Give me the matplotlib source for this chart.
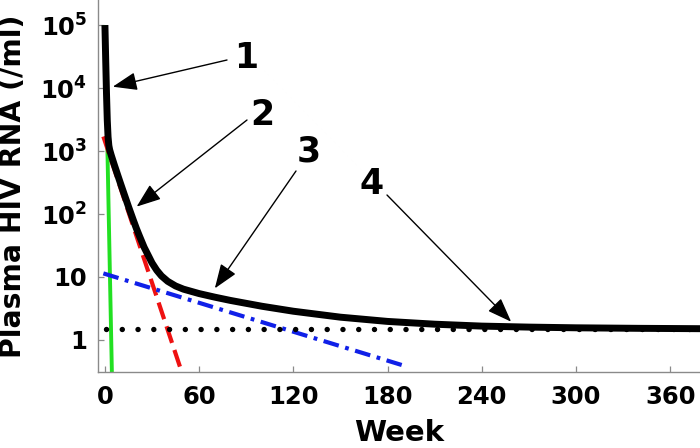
import matplotlib
matplotlib.use("Agg")
import matplotlib.pyplot as plt
import numpy as np

# ---- data ----
total_weeks = [0, 0.5, 1, 1.5, 2, 2.5, 3, 4, 6, 8, 10, 12, 15, 18, 20, 22, 25, 28,
               30, 33, 36, 40, 45, 50, 60, 70, 80, 100, 120, 150, 180, 210, 240,
               270, 300, 340, 380]
total_rna = [1.0e5, 2.76e4, 8.2e3, 3.08e3, 1.67e3, 1.22e3, 1.05e3, 860, 600, 425,
             302, 216, 131, 81, 59.3, 44.6, 29.5, 21, 16.7, 12.8, 10.4, 8.53, 7.2,
             6.41, 5.45, 4.78, 4.24, 3.43, 2.86, 2.3, 1.97, 1.78, 1.66, 1.6,
             1.56, 1.53, 1.51]

phase1_weeks = [0.0, 4.5]
phase1_rna = [1.0e5, 0.25]

phase2_weeks = [-1.0, 49.5]
phase2_rna = [1.7e3, 0.28]

phase3_weeks = [-1.0, 192.0]
phase3_rna = [11.4, 0.38]

phase4_weeks = [1.0, 380.0]
phase4_rna = [1.5, 1.5]

xticks = [0, 60, 120, 180, 240, 300, 360]
yticks = [1, 10, 1e2, 1e3, 1e4, 1e5]
ytick_labels = ["1", "10", r"$\mathbf{10^{2}}$", r"$\mathbf{10^{3}}$",
                r"$\mathbf{10^{4}}$", r"$\mathbf{10^{5}}$"]

labels = ["1", "2", "3", "4"]
arrow_tips = [(5.0, 1.05e4), (20.2, 131), (70.0, 6.6), (258.7, 1.95)]
arrow_tails_px = [(227, 60), (247, 120), (296, 171), (387, 195)]   # figure pixels from top
label_pos_px = [(246, 58), (262, 115), (309, 152), (372, 184)]

# ---- figure ----
W, H = 700, 448
fig = plt.figure(figsize=(7.0, 4.48), dpi=100)
ax = fig.add_axes([97.7 / W, (H - 372) / H, 1 - 97.7 / W, 372 / H])
ax.set_yscale("log")
ax.set_xlim(-4.6, 379)
ax.set_ylim(0.31, 2.5e5)

ax.plot(phase1_weeks, phase1_rna, color="#22e022", lw=2.8, solid_capstyle="butt", zorder=2)
ax.plot(phase2_weeks, phase2_rna, color="#ee1111", lw=3.0, dashes=(4.2, 1.8), zorder=3)
ax.plot(phase3_weeks, phase3_rna, color="#1020e8", lw=3.0,
        dashes=(3.8, 1.6, 0.9, 1.6), zorder=3)
ax.plot(phase4_weeks, phase4_rna, color="black", lw=3.9,
        dashes=(0.01, 2.9), dash_capstyle="round", zorder=4)
ax.plot(total_weeks, total_rna, color="black", lw=5.0, solid_joinstyle="round",
        solid_capstyle="butt", zorder=5)

for spine in ["top", "right"]:
    ax.spines[spine].set_visible(False)
for spine in ["left", "bottom"]:
    ax.spines[spine].set_color("#8a8a8a")
    ax.spines[spine].set_linewidth(1.0)

ax.set_xticks(xticks)
ax.set_xticklabels([str(v) for v in xticks])
ax.set_yticks(yticks)
ax.set_yticklabels(ytick_labels)
ax.yaxis.set_minor_locator(matplotlib.ticker.NullLocator())
ax.tick_params(axis="both", direction="in", length=4, width=0.9, color="#8a8a8a",
               labelsize=17.5)
ax.tick_params(axis="x", pad=9.0)
ax.tick_params(axis="y", pad=7.5)
for lab in ax.get_xticklabels() + ax.get_yticklabels():
    lab.set_fontweight("bold")

# axis labels
fig.text(399 / W, 7 / H, "Week", fontsize=21, fontweight="bold",
         ha="center", va="baseline")
fig.text(13 / W, 1 - 186 / H, "Plasma HIV RNA (/ml)", fontsize=20.3,
         fontweight="bold", rotation=90, ha="center", va="center")

# arrows and numbers
for lab, tip, tail, lp in zip(labels, arrow_tips, arrow_tails_px, label_pos_px):
    ax.annotate("", xy=tip, xycoords="data",
                xytext=(tail[0], H - tail[1]), textcoords="figure pixels",
                arrowprops=dict(arrowstyle="-|>,head_length=0.75,head_width=0.28",
                                mutation_scale=20, color="black", lw=1.0,
                                shrinkA=0, shrinkB=0), zorder=6)
    fig.text(lp[0] / W, 1 - lp[1] / H, lab, fontsize=25, fontweight="bold",
             ha="center", va="center")

fig.savefig("out.png", dpi=100)
